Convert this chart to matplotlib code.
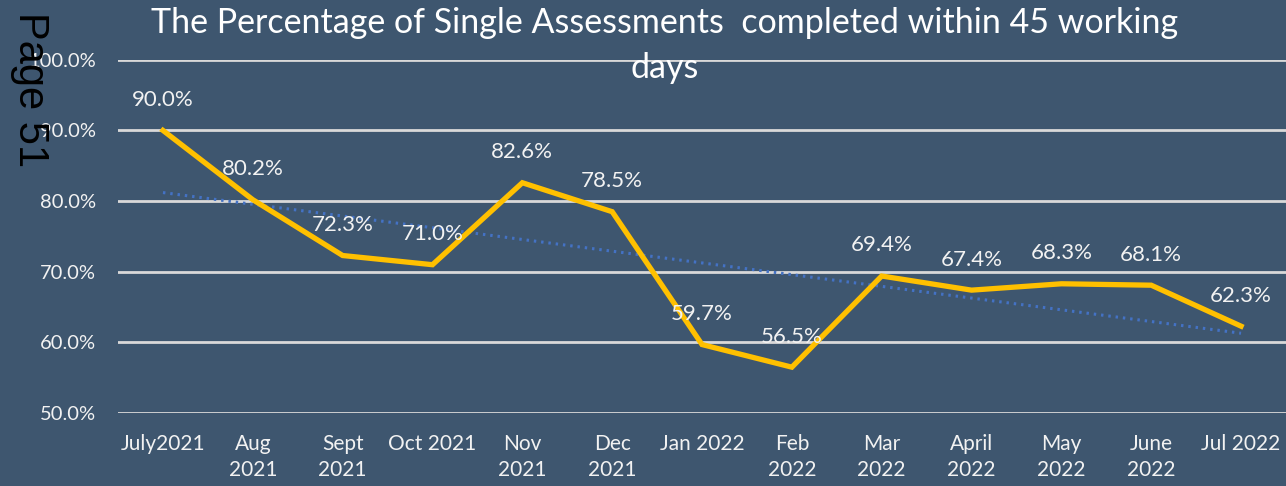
import numpy as np
import matplotlib
matplotlib.use("Agg")
import matplotlib.pyplot as plt

months = ["July2021", "Aug\n2021", "Sept\n2021", "Oct 2021", "Nov\n2021", "Dec\n2021",
          "Jan 2022", "Feb\n2022", "Mar\n2022", "April\n2022", "May\n2022", "June\n2022",
          "Jul 2022"]
pct = [90.0, 80.2, 72.3, 71.0, 82.6, 78.5, 59.7, 56.5, 69.4, 67.4, 68.3, 68.1, 62.3]
yticks = [50, 60, 70, 80, 90, 100]

bg = "#3E566F"
plt.rcParams['font.family'] = ['Lato', 'DejaVu Sans']

fig = plt.figure(figsize=(12.86, 4.86), dpi=100, facecolor=bg)
ax = fig.add_axes([0.0918, 0.150, 0.9082, 0.727], facecolor=bg)

x = np.arange(len(pct))
# excel-style linear trendline
k, b = np.polyfit(x, pct, 1)
ax.plot(x, k * x + b, color="#4472C4", lw=2.2, ls=(0, (0.8, 1.6)), zorder=2)
ax.plot(x, pct, color="#FFC000", lw=3.8, solid_joinstyle="miter", zorder=3)

for xi, v in zip(x, pct):
    ax.annotate(f"{v:.1f}%", (xi, v), xytext=(0, 22), textcoords="offset points",
                ha="center", va="center", color="#F2F2F2", fontsize=16, zorder=4)

ax.set_xlim(-0.5, len(pct) - 0.5)
ax.set_ylim(50, 100)
ax.set_yticks(yticks)
ax.set_yticklabels([f"{t:.1f}%" for t in yticks], color="#F2F2F2", fontsize=14.5)
ax.set_xticks(x)
ax.set_xticklabels(months, color="#F2F2F2", fontsize=15, linespacing=1.4)
ax.tick_params(length=0, pad=15)
ax.tick_params(axis="y", pad=16)
ax.grid(axis="y", color="#D9D9D9", lw=2)
ax.set_axisbelow(True)
for s in ax.spines.values():
    s.set_visible(False)

fig.text(0.517, 0.985, "The Percentage of Single Assessments  completed within 45 working\ndays",
         ha="center", va="top", color="white", fontsize=24.5, linespacing=1.5)
fig.text(0.023, 0.975, "Page 51", rotation=270, ha="center", va="top", color="black",
         fontsize=30, family="Liberation Sans")

fig.savefig("out.png", facecolor=bg)
